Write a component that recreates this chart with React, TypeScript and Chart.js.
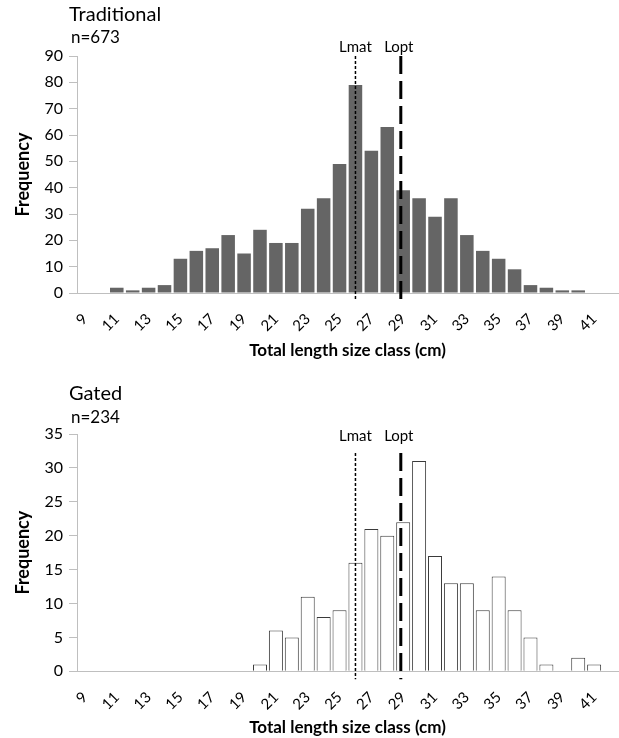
import React, { useEffect, useRef } from 'react';
import { Chart, registerables } from 'chart.js';
Chart.register(...registerables);

// ---------- data ----------
const sizeClasses = [
  '9', '10', '11', '12', '13', '14', '15', '16', '17', '18', '19', '20', '21', '22', '23', '24', '25',
  '26', '27', '28', '29', '30', '31', '32', '33', '34', '35', '36', '37', '38', '39', '40', '41', '42',
];
const traditionalCounts = [
  0, 0, 2, 1, 2, 3, 13, 16, 17, 22, 15, 24, 19, 19, 32, 36, 49,
  79, 54, 63, 39, 36, 29, 36, 22, 16, 13, 9, 3, 2, 1, 1, 0, 0,
];
const gatedCounts = [
  0, 0, 0, 0, 0, 0, 0, 0, 0, 0, 0, 1, 6, 5, 11, 8, 9,
  16, 21, 20, 22, 31, 17, 13, 13, 9, 14, 9, 5, 1, 0, 2, 1, 0,
];
const lmatCm = 26;
const loptCm = 28.85;
const firstClass = 9;

const FONT = 'Lato, "Open Sans", sans-serif';

type PanelCfg = {
  title: string;
  n: string;
  data: number[];
  yMax: number;
  yStep: number;
  fill: string;
  border: string;
  borderWidth: number;
  barPct: number;
  height: number;
  top: number;
  bottom: number;
  xTitleY: number;
  lineTopValue: number;
  labelY: number;
  titleY: number;
  nY: number;
};

const panels: PanelCfg[] = [
  {
    title: 'Traditional', n: 'n=673', data: traditionalCounts, yMax: 90, yStep: 10,
    fill: '#656565', border: '#656565', borderWidth: 0, barPct: 0.85,
    height: 366, top: 56, bottom: 293, xTitleY: 350.5, lineTopValue: 90, labelY: 52, titleY: 21, nY: 43,
  },
  {
    title: 'Gated', n: 'n=234', data: gatedCounts, yMax: 35, yStep: 5,
    fill: '#ffffff', border: '#3a3a3a', borderWidth: 1, barPct: 0.88,
    height: 372, top: 68, bottom: 306, xTitleY: 362.5, lineTopValue: 32.2, labelY: 75, titleY: 34, nY: 57,
  },
];

function Panel({ cfg }: { cfg: PanelCfg }) {
  const ref = useRef<HTMLCanvasElement>(null);
  useEffect(() => {
    if (!ref.current) return;
    const xTitleLH = 17 * 1.2;
    const overlay = {
      id: 'overlay',
      afterDatasetsDraw(chart: any) {
        const { ctx } = chart;
        const xs = chart.scales.x;
        const ys = chart.scales.y;
        const yTop = ys.getPixelForValue(cfg.lineTopValue);
        const yBot = chart.chartArea.bottom + 8;
        const xm = xs.getPixelForValue(lmatCm - firstClass);
        const xo = xs.getPixelForValue(loptCm - firstClass);
        ctx.save();
        ctx.strokeStyle = '#000';
        ctx.lineWidth = 1.5;
        ctx.setLineDash([3, 2]);
        ctx.beginPath();
        ctx.moveTo(xm, yTop);
        ctx.lineTo(xm, yBot);
        ctx.stroke();
        ctx.lineWidth = 3;
        ctx.setLineDash([18, 7]);
        ctx.beginPath();
        ctx.moveTo(xo, yTop);
        ctx.lineTo(xo, yBot);
        ctx.stroke();
        ctx.setLineDash([]);
        ctx.fillStyle = '#000';
        ctx.font = `15px ${FONT}`;
        ctx.textAlign = 'center';
        ctx.textBaseline = 'alphabetic';
        ctx.fillText('Lmat', xm, cfg.labelY);
        ctx.fillText('Lopt', xo - 2, cfg.labelY);
        // panel titles
        ctx.textAlign = 'left';
        ctx.font = `20px ${FONT}`;
        ctx.fillText(cfg.title, 69, cfg.titleY);
        ctx.font = `17px ${FONT}`;
        ctx.fillText(cfg.n, 71, cfg.nY);
        ctx.restore();
      },
    };
    const chart = new Chart(ref.current, {
      type: 'bar',
      data: {
        labels: sizeClasses,
        datasets: [
          {
            data: cfg.data,
            backgroundColor: cfg.fill,
            borderColor: cfg.border,
            borderWidth: cfg.borderWidth,
            barPercentage: cfg.barPct,
            categoryPercentage: 1,
          },
        ],
      },
      options: {
        animation: false,
        responsive: false,
        maintainAspectRatio: false,
        layout: {
          padding: {
            top: cfg.top,
            left: 0,
            right: 1,
            bottom: Math.max(0, cfg.height - (cfg.xTitleY + xTitleLH / 2)),
          },
        },
        plugins: { legend: { display: false }, tooltip: { enabled: false }, title: { display: false } },
        scales: {
          x: {
            afterFit: (s: any) => {
              s.height = cfg.xTitleY + xTitleLH / 2 - cfg.bottom;
              s.paddingLeft = 0;
              s.paddingRight = 0;
            },
            grid: { display: false },
            border: { display: true, color: '#bfbfbf', width: 1 },
            ticks: {
              autoSkip: false,
              minRotation: 45,
              maxRotation: 45,
              padding: 9,
              color: '#000',
              font: { family: FONT, size: 15 },
              callback: (_v: any, i: number) => (i % 2 === 0 ? sizeClasses[i] : ''),
            },
            title: {
              display: true,
              text: 'Total length size class (cm)',
              color: '#000',
              font: { family: FONT, size: 17, weight: 'bold' },
              padding: { top: 0, bottom: 0 },
            },
          },
          y: {
            min: 0,
            max: cfg.yMax,
            afterFit: (s: any) => {
              s.width = 77;
              s.paddingTop = 0;
              s.paddingBottom = 0;
            },
            grid: { display: true, drawOnChartArea: false, drawTicks: true, tickLength: 8, color: '#bfbfbf' },
            border: { display: true, color: '#bfbfbf', width: 1 },
            ticks: {
              stepSize: cfg.yStep,
              padding: 6,
              color: '#000',
              font: { family: FONT, size: 16 },
            },
            title: {
              display: true,
              text: 'Frequency',
              color: '#000',
              font: { family: FONT, size: 18, weight: 'bold' },
              padding: { top: 12, bottom: 0 },
            },
          },
        },
      },
      plugins: [overlay],
    });
    return () => chart.destroy();
  }, [cfg]);
  return <canvas ref={ref} width={619} height={cfg.height} style={{ display: 'block', width: 619, height: cfg.height }} />;
}

export default function App() {
  return (
    <div style={{ position: 'absolute', left: 0, top: 0, width: 619, height: 738, background: '#fff' }}>
      {panels.map((p) => (
        <Panel key={p.title} cfg={p} />
      ))}
    </div>
  );
}
